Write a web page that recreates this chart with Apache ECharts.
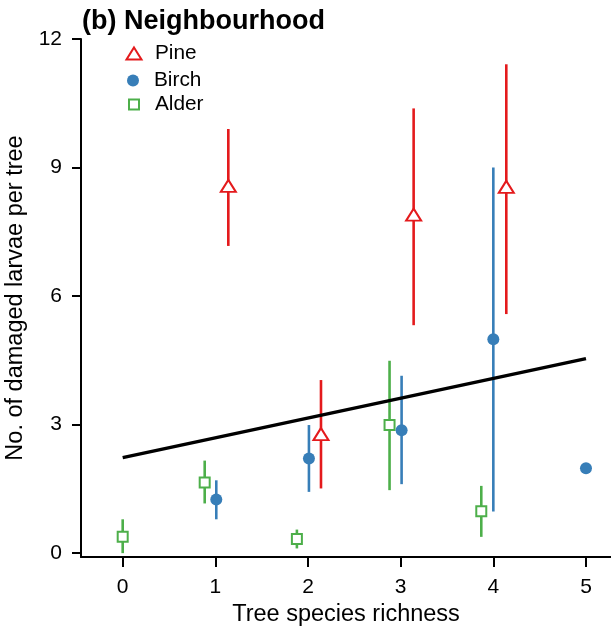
<!DOCTYPE html>
<html>
<head>
<meta charset="utf-8">
<script src="https://cdn.jsdelivr.net/npm/echarts@6/dist/echarts.min.js"></script>
<style>
  html, body { margin: 0; padding: 0; background: #fff; }
  #chart { width: 611px; height: 626px; }
</style>
</head>
<body>
<div id="chart"></div>
<script>
// tick labels
const xTicks = [0, 1, 2, 3, 4, 5];
const yTicks = [0, 3, 6, 9, 12];

// Pine (dodged slightly right)
const pineX = [1.14, 2.14, 3.14, 4.14];
const pineMean = [8.57, 2.78, 7.9, 8.55];
const pineLo = [7.17, 1.51, 5.32, 5.58];
const pineHi = [9.9, 4.04, 10.38, 11.41];

// Birch
const birchX = [1.01, 2.01, 3.01, 4.0, 5.0];
const birchMean = [1.25, 2.21, 2.87, 4.99, 1.98];
const birchLo = [0.79, 1.43, 1.61, 0.97, null];
const birchHi = [1.7, 2.99, 4.14, 9.0, null];

// Alder (dodged slightly left)
const alderX = [0, 0.885, 1.88, 2.88, 3.87];
const alderMean = [0.38, 1.65, 0.33, 2.99, 0.98];
const alderLo = [0, 1.16, 0.11, 1.47, 0.38];
const alderHi = [0.79, 2.16, 0.55, 4.49, 1.57];

// fitted line
const fitX = [0, 5];
const fitY = [2.23, 4.54];

const RED = "#E41A1C";
const BLUE = "#377EB8";
const GREEN = "#4DAF4A";
const FONT = "'Liberation Sans', Arial, Helvetica, sans-serif";

function pairs(xs, ys) {
  return xs.map((x, i) => [x, ys[i]]);
}

function errorBars(xs, lo, hi, color) {
  const data = [];
  xs.forEach((x, i) => {
    if (lo[i] != null) data.push([x, lo[i], hi[i]]);
  });
  return {
    type: "custom",
    silent: true,
    z: 1,
    data: data,
    encode: { x: 0, y: [1, 2] },
    renderItem: (params, api) => {
      const a = api.coord([api.value(0), api.value(1)]);
      const b = api.coord([api.value(0), api.value(2)]);
      return {
        type: "line",
        shape: { x1: a[0], y1: a[1], x2: b[0], y2: b[1] },
        style: { stroke: color, lineWidth: 2.6 },
      };
    },
  };
}

function legendItem(name, icon, w, h, left, top, style, pad) {
  return {
    orient: "vertical",
    left: left,
    top: top,
    padding: 0,
    itemWidth: w,
    itemHeight: h,
    selectedMode: false,
    data: [{ name: name, icon: icon, itemStyle: style }],
    textStyle: { fontFamily: FONT, fontSize: 20.8, color: "#000", padding: [0, 0, 0, pad] },
  };
}

const chart = echarts.init(document.getElementById("chart"));

chart.setOption({
  animation: false,
  backgroundColor: "#fff",
  title: {
    text: "(b) Neighbourhood",
    left: 82,
    top: 8,
    padding: 0,
    textStyle: { fontFamily: FONT, fontSize: 27, fontWeight: "bold", color: "#000" },
  },
  legend: [
    legendItem("Pine", "triangle", 15, 12, 125.5, 43, { color: "#fff", borderColor: RED, borderWidth: 2 }, 8.5),
    legendItem("Birch", "circle", 12, 12, 127, 70, { color: BLUE }, 10),
    legendItem("Alder", "rect", 10, 10, 128, 94, { color: "#fff", borderColor: GREEN, borderWidth: 2 }, 11),
  ],
  grid: { left: 81, right: 0, top: 39, bottom: 69, containLabel: false, outerBoundsMode: "none" },
  xAxis: {
    type: "value",
    min: -0.45,
    max: 5.27,
    name: "Tree species richness",
    nameLocation: "middle",
    nameGap: 43,
    nameTextStyle: { fontFamily: FONT, fontSize: 23.5, color: "#000" },
    splitLine: { show: false },
    axisLine: { show: true, onZero: false, lineStyle: { color: "#000", width: 2 } },
    axisTick: { show: true, length: 10, customValues: xTicks, lineStyle: { color: "#000", width: 2 } },
    axisLabel: { customValues: xTicks, margin: 20, fontFamily: FONT, fontSize: 21, color: "#000" },
  },
  yAxis: {
    type: "value",
    min: -0.09,
    max: 12,
    name: "No. of damaged larvae per tree",
    nameLocation: "middle",
    nameGap: 47,
    nameTextStyle: { fontFamily: FONT, fontSize: 23.5, color: "#000" },
    splitLine: { show: false },
    axisLine: { show: true, onZero: false, lineStyle: { color: "#000", width: 2 } },
    axisTick: { show: true, length: 9, customValues: yTicks, lineStyle: { color: "#000", width: 2 } },
    axisLabel: { customValues: yTicks, margin: 19, fontFamily: FONT, fontSize: 21, color: "#000" },
  },
  series: [
    errorBars(alderX, alderLo, alderHi, GREEN),
    errorBars(birchX, birchLo, birchHi, BLUE),
    errorBars(pineX, pineLo, pineHi, RED),
    {
      type: "line",
      data: pairs(fitX, fitY),
      showSymbol: false,
      silent: true,
      z: 3,
      lineStyle: { color: "#000", width: 3.5 },
    },
    {
      name: "Alder",
      type: "scatter",
      z: 4,
      data: pairs(alderX, alderMean),
      symbol: "rect",
      symbolSize: 10,
      itemStyle: { color: "#fff", borderColor: GREEN, borderWidth: 2, opacity: 1 },
    },
    {
      name: "Birch",
      type: "scatter",
      z: 4,
      data: pairs(birchX, birchMean),
      symbol: "circle",
      symbolSize: 12,
      itemStyle: { color: BLUE, opacity: 1 },
    },
    {
      name: "Pine",
      type: "scatter",
      z: 4,
      data: pairs(pineX, pineMean),
      symbol: "triangle",
      symbolSize: [15, 12],
      itemStyle: { color: "#fff", borderColor: RED, borderWidth: 2, opacity: 1 },
    },
  ],
});
</script>
</body>
</html>
